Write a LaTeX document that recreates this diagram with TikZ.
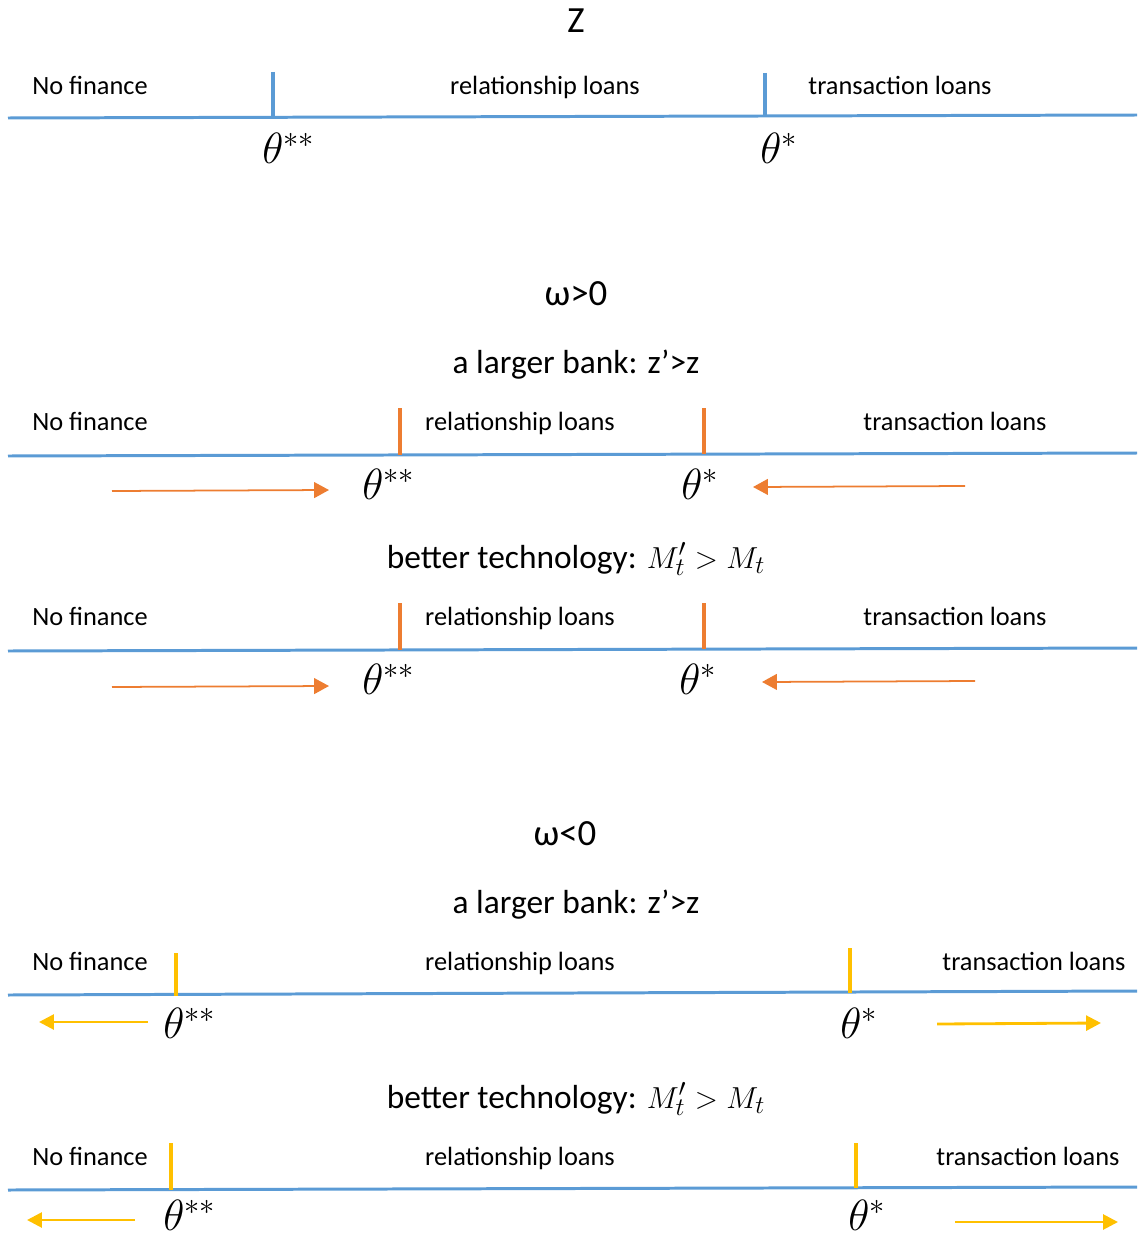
\documentclass[tikz,border=0pt]{standalone}
\usepackage{fontspec}
\setmainfont{Carlito}
\usepackage{tikz}
\usetikzlibrary{arrows.meta,positioning}

\definecolor{axisblue}{HTML}{5B9BD5}
\definecolor{shiftorange}{HTML}{ED7D31}
\definecolor{shiftyellow}{HTML}{FFC000}

\tikzset{
    axis/.style={draw=axisblue,line width=1.7pt},
    cut/.style={line width=2.2pt},
    lbl/.style={inner sep=0pt,anchor=base,font=\fontsize{15}{18}\selectfont},
    head/.style={inner sep=0pt,anchor=base,font=\fontsize{21}{25}\selectfont},
    case/.style={inner sep=0pt,anchor=base,font=\fontsize{19}{23}\selectfont},
    thr/.style={inner sep=0pt,anchor=base west,font=\fontsize{27}{32}\selectfont},
    moveo/.style={draw=shiftorange,line width=1pt,-{Triangle[length=8.5pt,width=9pt]}},
    movey/.style={draw=shiftyellow,line width=1.6pt,-{Triangle[length=8.5pt,width=8.5pt]}}
}

\begin{document}
\begin{tikzpicture}[x=0.02cm,y=-0.02cm]
    \useasboundingbox (0,0) rectangle (1137,1237);

    % baseline case
    \node[head] (z) at (576,33) {Z};
    \coordinate (a1l) at (8,118);
    \coordinate (a1r) at (1137,115);
    \draw[axis] (a1l) -- (a1r);
    \coordinate (c1a) at (273,72);
    \coordinate (c1b) at (765,73);
    \draw[cut,axisblue] (c1a) -- (273,117.5);
    \draw[cut,axisblue] (c1b) -- (765,116);
    \node[lbl,anchor=base west] (nf1) at (32,94) {No finance};
    \node[lbl] (rl1) at (545,94) {relationship loans};
    \node[lbl] (tl1) at (900,94) {transaction loans};
    \node[thr] (tss1) at (262,163) {$\theta^{**}$};
    \node[thr] (ts1) at (760,163) {$\theta^{*}$};

    % omega > 0
    \node[head] (wpos) at (576,305) {ω>0};
    \node[case] (bank2) at (576,373) {a larger bank: z’>z};
    \coordinate (a2l) at (8,456);
    \coordinate (a2r) at (1137,453);
    \draw[axis] (a2l) -- (a2r);
    \draw[cut,shiftorange] (400,408) -- (400,455);
    \draw[cut,shiftorange] (704,408) -- (704,454);
    \node[lbl,anchor=base west] (nf2) at (32,430) {No finance};
    \node[lbl] (rl2) at (520,430) {relationship loans};
    \node[lbl] (tl2) at (955,430) {transaction loans};
    \node[thr] (tss2) at (362,499) {$\theta^{**}$};
    \node[thr] (ts2) at (681,499) {$\theta^{*}$};
    \coordinate (s2a) at (112,491);
    \coordinate (s2b) at (965,486);
    \draw[moveo] (s2a) -- (329,490);
    \draw[moveo] (s2b) -- (753,487);

    \node[case] (tech2) at (576,568) {better technology: $M_t' > M_t$};
    \coordinate (a3l) at (8,651);
    \coordinate (a3r) at (1137,648);
    \draw[axis] (a3l) -- (a3r);
    \draw[cut,shiftorange] (400,603) -- (400,650);
    \draw[cut,shiftorange] (704,603) -- (704,649);
    \node[lbl,anchor=base west] (nf3) at (32,625) {No finance};
    \node[lbl] (rl3) at (520,625) {relationship loans};
    \node[lbl] (tl3) at (955,625) {transaction loans};
    \node[thr] (tss3) at (362,694) {$\theta^{**}$};
    \node[thr] (ts3) at (679,694) {$\theta^{*}$};
    \coordinate (s3a) at (112,687);
    \coordinate (s3b) at (975,681);
    \draw[moveo] (s3a) -- (329,686);
    \draw[moveo] (s3b) -- (762,682);

    % omega < 0
    \node[head] (wneg) at (565,845) {ω<0};
    \node[case] (bank4) at (576,913) {a larger bank: z’>z};
    \coordinate (a4l) at (8,995);
    \coordinate (a4r) at (1137,991);
    \draw[axis] (a4l) -- (a4r);
    \draw[cut,shiftyellow] (176,953) -- (176,996);
    \draw[cut,shiftyellow] (850,948) -- (850,993);
    \node[lbl,anchor=base west] (nf4) at (32,970) {No finance};
    \node[lbl] (rl4) at (520,970) {relationship loans};
    \node[lbl] (tl4) at (1034,970) {transaction loans};
    \node[thr] (tss4) at (163,1038) {$\theta^{**}$};
    \node[thr] (ts4) at (840,1038) {$\theta^{*}$};
    \coordinate (s4a) at (148,1022);
    \coordinate (s4b) at (937,1024);
    \draw[movey] (s4a) -- (39,1022);
    \draw[movey] (s4b) -- (1101,1023);

    \node[case] (tech4) at (576,1108) {better technology: $M_t' > M_t$};
    \coordinate (a5l) at (8,1190);
    \coordinate (a5r) at (1137,1187);
    \draw[axis] (a5l) -- (a5r);
    \draw[cut,shiftyellow] (171,1143) -- (171,1190);
    \draw[cut,shiftyellow] (856,1143) -- (856,1188);
    \node[lbl,anchor=base west] (nf5) at (32,1165) {No finance};
    \node[lbl] (rl5) at (520,1165) {relationship loans};
    \node[lbl] (tl5) at (1028,1165) {transaction loans};
    \node[thr] (tss5) at (163,1230) {$\theta^{**}$};
    \node[thr] (ts5) at (848,1230) {$\theta^{*}$};
    \coordinate (s5a) at (135,1220);
    \coordinate (s5b) at (955,1222);
    \draw[movey] (s5a) -- (27,1220);
    \draw[movey] (s5b) -- (1118,1222);
\end{tikzpicture}
\end{document}
